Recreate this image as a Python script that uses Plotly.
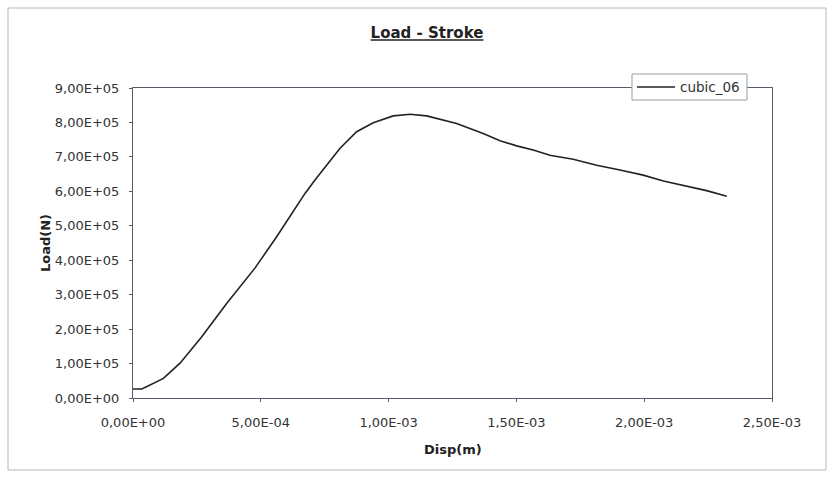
import plotly.graph_objects as go

disp_m = [0.0, 3.5e-5, 4.5e-5, 1.19e-4, 1.84e-4, 2.69e-4, 3.67e-4, 4.77e-4, 5.62e-4,
          6.40e-4, 6.73e-4, 7.12e-4, 7.32e-4, 8.10e-4, 8.75e-4, 9.40e-4, 1.018e-3,
          1.084e-3, 1.149e-3, 1.201e-3, 1.266e-3, 1.305e-3, 1.370e-3, 1.436e-3,
          1.501e-3, 1.566e-3, 1.631e-3, 1.722e-3, 1.814e-3, 1.905e-3, 1.996e-3,
          2.075e-3, 2.166e-3, 2.244e-3, 2.323e-3]
load_n = [2.6e4, 2.6e4, 3.0e4, 5.7e4, 1.01e5, 1.78e5, 2.75e5, 3.77e5, 4.68e5,
          5.55e5, 5.94e5, 6.33e5, 6.52e5, 7.25e5, 7.73e5, 7.99e5, 8.19e5,
          8.24e5, 8.19e5, 8.09e5, 7.97e5, 7.86e5, 7.68e5, 7.47e5,
          7.32e5, 7.20e5, 7.05e5, 6.93e5, 6.76e5, 6.62e5, 6.47e5,
          6.30e5, 6.15e5, 6.02e5, 5.86e5]

x_ticks = [0, 5e-4, 1e-3, 1.5e-3, 2e-3, 2.5e-3]
x_tick_text = ["0,00E+00", "5,00E-04", "1,00E-03", "1,50E-03", "2,00E-03", "2,50E-03"]
y_ticks = [0, 1e5, 2e5, 3e5, 4e5, 5e5, 6e5, 7e5, 8e5, 9e5]
y_tick_text = ["0,00E+00", "1,00E+05", "2,00E+05", "3,00E+05", "4,00E+05",
               "5,00E+05", "6,00E+05", "7,00E+05", "8,00E+05", "9,00E+05"]

series_name = "cubic_06"
title_text = "Load - Stroke"
x_title = "Disp(m)"
y_title = "Load(N)"

W, H = 833, 479
L, R, T, B = 133, 61, 88, 81
pw, ph = W - L - R, H - T - B

def px_to_paper_x(px):
    return (px - L) / pw

def py_to_paper_y(py):
    return (H - B - py) / ph

line_color = "#222222"
axis_color = "#5a5a6a"
font_family = "DejaVu Sans, Verdana, sans-serif"

fig = go.Figure()
fig.add_trace(go.Scatter(x=disp_m, y=load_n, mode="lines", name=series_name,
                         line=dict(color=line_color, width=1.6), showlegend=False))

fig.update_layout(
    width=W, height=H,
    margin=dict(l=L, r=R, t=T, b=B, pad=0),
    paper_bgcolor="white", plot_bgcolor="white",
    font=dict(family=font_family, color="#333333", size=13),
    title=dict(text="<b><u>" + title_text + "</u></b>", x=427 / W, xref="container",
               xanchor="center", y=1 - 33 / H, yref="container", yanchor="middle",
               font=dict(size=15, color="#222222", family=font_family)),
    xaxis=dict(range=[0, 2.5e-3], tickvals=x_ticks, ticktext=x_tick_text,
               showgrid=False, zeroline=False, showline=True, linecolor=axis_color,
               linewidth=1, mirror=True, ticks="outside", ticklen=3, tickcolor=axis_color,
               ticklabelstandoff=9,
               tickfont=dict(size=13, color="#333333", family=font_family)),
    yaxis=dict(range=[0, 9e5], tickvals=y_ticks, ticktext=y_tick_text,
               showgrid=False, zeroline=False, showline=True, linecolor=axis_color,
               linewidth=1, mirror=True, ticks="outside", ticklen=3, tickcolor=axis_color,
               ticklabelstandoff=7,
               tickfont=dict(size=13, color="#333333", family=font_family)),
    shapes=[
        dict(type="rect", xref="paper", yref="paper",
             x0=px_to_paper_x(8), x1=px_to_paper_x(826),
             y0=py_to_paper_y(470), y1=py_to_paper_y(8),
             line=dict(color="#b8b8c0", width=1), layer="below"),
        # legend box
        dict(type="rect", xref="paper", yref="paper",
             x0=px_to_paper_x(632), x1=px_to_paper_x(747),
             y0=py_to_paper_y(100), y1=py_to_paper_y(74),
             line=dict(color="#9a9aa8", width=1), fillcolor="white", layer="above"),
        # legend sample line
        dict(type="line", xref="paper", yref="paper",
             x0=px_to_paper_x(637), x1=px_to_paper_x(675),
             y0=py_to_paper_y(87), y1=py_to_paper_y(87),
             line=dict(color=line_color, width=1.6), layer="above"),
    ],
    annotations=[
        dict(text=series_name, xref="paper", yref="paper",
             x=px_to_paper_x(678), y=py_to_paper_y(87), xanchor="left", yanchor="middle",
             showarrow=False, font=dict(size=13.5, color="#333333", family=font_family)),
        dict(text="<b>" + x_title + "</b>", xref="paper", yref="paper",
             x=px_to_paper_x(453), y=py_to_paper_y(449), xanchor="center", yanchor="middle",
             showarrow=False, font=dict(size=13, color="#222222", family=font_family)),
        dict(text="<b>" + y_title + "</b>", xref="paper", yref="paper",
             x=px_to_paper_x(45), y=py_to_paper_y(243), xanchor="center", yanchor="middle",
             showarrow=False, textangle=-90, font=dict(size=13, color="#222222", family=font_family)),
    ],
)

fig.write_html("out.html")
